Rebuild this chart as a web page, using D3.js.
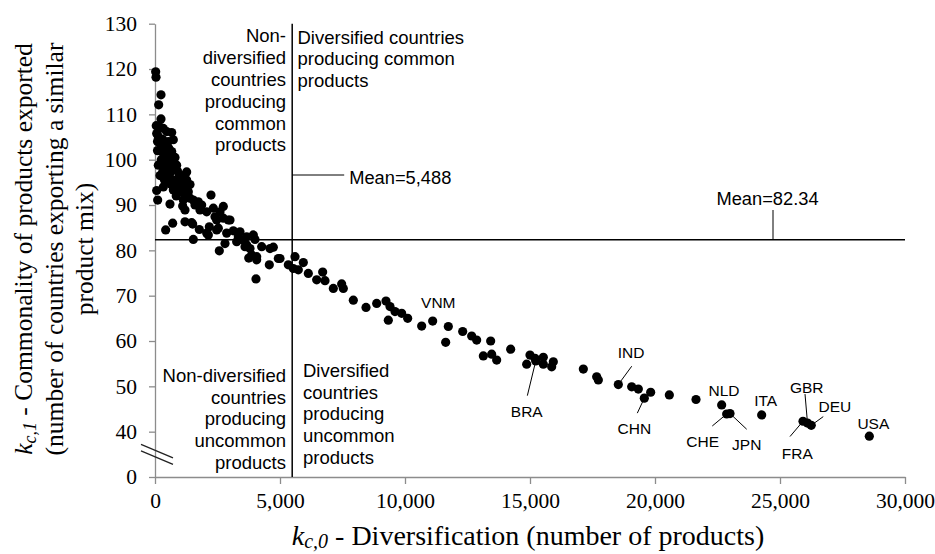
<!DOCTYPE html>
<html>
<head>
<meta charset="utf-8">
<script src="https://cdn.jsdelivr.net/npm/d3@7"></script>
<style>
  body { margin: 0; background: #fff; }
  svg text { fill: #000; }
</style>
</head>
<body>
<div id="chart"></div>
<script>
// Diversification (kc,0) vs commonality (kc,1) of exported products
const prodX = [
  27, 40, 240, 147, 240, 67, 133, 333, 467, 667, 733, 200, 400, 267, 667, 467, 133, 733, 867, 307,
  600, 1267, 67, 333, 533, 733, 933, 1067, 1267, 1133, 733, 1000, 1333, 107, 600, 1133, 1107, 1200, 1533, 1733,
  1867, 2240, 1800, 2067, 2333, 2600, 2400, 2733, 3000, 1200, 1467, 1773, 2173, 2067, 2467, 427, 707, 1533, 2867, 3133,
  3400, 3333, 3667, 3933, 4000, 4267, 4600, 4733, 4933, 2573, 2800, 3267, 3600, 3800, 3867, 4067, 4040, 4573, 4067, 3750,
  2933, 2733, 1800, 2467, 1507, 2533, 3533, 3667, 2133, 50, 200, 100, 300, 533, 400, 100, 550, 250, 350, 800,
  450, 600, 900, 200, 450, 700, 1000, 1150, 380, 650, 850, 1400, 950, 1200, 1400, 1600, 850,
  5000, 5333, 5600, 5533, 5733, 5933, 6133, 6467, 6707, 6800, 7133, 7533, 7467, 7933, 8440, 8867, 9240, 9400, 9600, 9867,
  9333, 10107, 10667, 11733, 11627, 12307, 12667, 12867, 13427, 13133, 13467, 13667, 14227, 15000, 15200, 14867, 15533, 15533, 15933, 15867,
  17133, 17733, 17667, 19067, 19333, 19827, 20573, 21640
];
const prodY = [
  119.4, 118.2, 114.3, 112.1, 109.0, 105.8, 105.1, 106.9, 106.2, 106.0, 104.4, 103.6, 102.9, 101.8, 101.8, 100.7, 98.8, 99.2, 98.8, 97.3,
  97.0, 97.3, 93.2, 94.0, 95.1, 95.5, 95.9, 95.1, 95.5, 94.0, 93.3, 92.9, 92.9, 91.1, 90.2, 91.1, 89.8, 88.9, 91.1, 90.7,
  90.0, 92.2, 88.9, 88.5, 89.3, 88.5, 87.4, 87.1, 86.7, 86.3, 86.1, 84.6, 85.2, 83.8, 84.5, 84.5, 86.0, 82.4, 83.8, 84.3,
  84.1, 83.0, 83.0, 83.4, 82.4, 80.8, 80.4, 80.7, 78.2, 79.9, 81.5, 81.9, 80.8, 80.4, 79.0, 78.6, 73.7, 76.8, 77.9, 78.3,
  86.7, 89.7, 89.7, 86.7, 85.8, 84.9, 82.3, 81.2, 83.4, 107.5, 107.2, 104.0, 104.5, 104.0, 101.0, 102.0, 102.5, 100.0, 99.5, 100.5,
  98.5, 99.5, 97.5, 96.5, 96.0, 97.8, 96.5, 96.5, 95.5, 94.5, 94.2, 94.5, 93.5, 92.5, 91.5, 90.0, 92.0,
  78.2, 76.8, 78.6, 76.0, 75.7, 77.3, 74.9, 73.5, 75.2, 73.3, 71.6, 71.6, 72.6, 69.0, 67.4, 68.3, 68.8, 67.6, 66.5, 66.1,
  64.6, 65.0, 63.3, 63.2, 59.7, 62.1, 61.1, 60.2, 60.0, 56.7, 57.1, 55.8, 58.2, 56.9, 56.2, 54.9, 56.4, 54.9, 55.4, 54.3,
  53.8, 51.4, 52.1, 49.9, 49.4, 48.7, 48.1, 47.1
];

// labelled countries
const codes = ["VNM", "BRA", "IND", "CHN", "NLD", "CHE", "JPN", "ITA", "FRA", "GBR", "DEU", "USA"];
const codeX = [11107, 15230, 18533, 19573, 22667, 22867, 23000, 24267, 25920, 26100, 26250, 28573];
const codeY = [64.4, 55.6, 50.4, 47.4, 45.9, 43.9, 44.0, 43.7, 42.3, 41.9, 41.4, 39.0];

const meanX = 5488;
const meanY = 82.34;

const xTicks = [0, 5000, 10000, 15000, 20000, 25000, 30000];
const yTicks = [30, 40, 50, 60, 70, 80, 90, 100, 110, 120, 130];
const yTickLabels = ["0", "40", "50", "60", "70", "80", "90", "100", "110", "120", "130"];

const quadrants = [
  { lines: ["Non-", "diversified", "countries", "producing", "common", "products"], anchor: "end", x: 286, y: 42.3 },
  { lines: ["Diversified countries", "producing common", "products"], anchor: "start", x: 297.5, y: 43.5 },
  { lines: ["Non-diversified", "countries", "producing", "uncommon", "products"], anchor: "end", x: 286, y: 381.7 },
  { lines: ["Diversified", "countries", "producing", "uncommon", "products"], anchor: "start", x: 303, y: 376.7 }
];

// label placement: leader end (lx,ly) and text centre (tx,ty) in px from the dot
const labelOffsets = {
  VNM: { tx: 5.6, ty: -18.7 },
  BRA: { lx: -8.4, ly: 34.7, tx: -9, ty: 50.4 },
  IND: { lx: 13.4, ly: -18.3, tx: 12.7, ty: -32.6 },
  CHN: { lx: -7, ly: 15, tx: -10, ty: 30.7 },
  NLD: { tx: 2.3, ty: -15 },
  CHE: { lx: -14.4, ly: 12, tx: -24, ty: 27.7 },
  JPN: { lx: 16.7, ly: 15.7, tx: 16.7, ty: 31 },
  ITA: { tx: 4, ty: -14.3 },
  FRA: { lx: -13, ly: 15.3, tx: -5.7, ty: 31.9 },
  GBR: { lx: -2.5, ly: -29, tx: -0.8, ty: -35.8 },
  DEU: { lx: 12, ly: -8.7, tx: 23.7, ty: -18.7 },
  USA: { tx: 4, ty: -12.7 }
};

const W = 935, H = 554;
const sans = "'Liberation Sans', Arial, sans-serif";
const serif = "'Liberation Serif', 'Times New Roman', serif";

const svg = d3.select("#chart")
  .append("svg")
  .attr("width", W)
  .attr("height", H);

// Scales
const x = d3.scaleLinear().domain([0, 30000]).range([155, 905]);
const y = d3.scaleLinear().domain([30, 130]).range([477, 23.7]);

// Axes
const yAxis = svg.append("g")
  .attr("transform", `translate(${x(0)},0)`)
  .call(d3.axisLeft(y)
    .tickValues(yTicks)
    .tickFormat((d, i) => yTickLabels[i])
    .tickSizeInner(6)
    .tickSizeOuter(0)
    .tickPadding(12));

const xAxis = svg.append("g")
  .attr("transform", `translate(0,${y(30)})`)
  .call(d3.axisBottom(x)
    .tickValues(xTicks)
    .tickFormat(d3.format(","))
    .tickSizeInner(7)
    .tickSizeOuter(0)
    .tickPadding(9));

[xAxis, yAxis].forEach(a => {
  a.attr("font-family", serif).attr("font-size", 21.5);
  a.select(".domain").attr("stroke", "#8c8c8c").attr("stroke-width", 1.3);
  a.selectAll(".tick line").attr("stroke", "#8c8c8c").attr("stroke-width", 1.3);
  a.selectAll(".tick text")
    .style("font-family", serif)
    .style("font-size", "21.5px")
    .attr("fill", "#111");
});

// Axis break marks
const bx = x(0), by = y(35);
[0, 6.5].forEach(off => {
  svg.append("line")
    .attr("x1", bx - 14).attr("y1", by - 10 + off)
    .attr("x2", bx + 18).attr("y2", by + 3.5 + off)
    .attr("stroke", "#222")
    .attr("stroke-width", 1.3);
});

// Mean lines
svg.append("line")
  .attr("x1", x(0)).attr("x2", x(30000))
  .attr("y1", y(meanY)).attr("y2", y(meanY))
  .attr("stroke", "#000").attr("stroke-width", 1.5);
svg.append("line")
  .attr("x1", x(meanX)).attr("x2", x(meanX))
  .attr("y1", y(130)).attr("y2", y(30))
  .attr("stroke", "#000").attr("stroke-width", 1.5);

// Mean callouts
svg.append("line")
  .attr("x1", x(meanX)).attr("x2", x(meanX) + 52)
  .attr("y1", 175).attr("y2", 175)
  .attr("stroke", "#000").attr("stroke-width", 1);
svg.append("text")
  .attr("x", x(meanX) + 57)
  .attr("y", 184)
  .style("font-family", sans)
  .style("font-size", "18.3px")
  .text("Mean=5,488");

svg.append("line")
  .attr("x1", 773).attr("x2", 773)
  .attr("y1", 210).attr("y2", y(meanY))
  .attr("stroke", "#000").attr("stroke-width", 1);
svg.append("text")
  .attr("x", 767.5)
  .attr("y", 205)
  .attr("text-anchor", "middle")
  .style("font-family", sans)
  .style("font-size", "18.3px")
  .text("Mean=82.34");

// Quadrant descriptions
quadrants.forEach(q => {
  const t = svg.append("text")
    .attr("text-anchor", q.anchor)
    .style("font-family", sans)
    .style("font-size", "18.5px");
  q.lines.forEach((ln, i) => {
    t.append("tspan")
      .attr("x", q.x)
      .attr("y", q.y + i * 21.8)
      .text(ln);
  });
});

// Points
const points = prodX.map((v, i) => ({ x: v, y: prodY[i] }))
  .concat(codes.map((c, i) => ({ x: codeX[i], y: codeY[i] })));

svg.selectAll(".dot")
  .data(points)
  .enter()
  .append("circle")
  .attr("class", "dot")
  .attr("cx", d => x(d.x))
  .attr("cy", d => y(d.y))
  .attr("r", 4.6)
  .attr("fill", "#000");

// Country labels with leader lines
const labelled = codes.map((c, i) => ({ code: c, px: x(codeX[i]), py: y(codeY[i]), o: labelOffsets[c] }));

svg.selectAll(".leader")
  .data(labelled.filter(d => d.o.lx !== undefined))
  .enter()
  .append("line")
  .attr("class", "leader")
  .attr("x1", d => d.px).attr("y1", d => d.py)
  .attr("x2", d => d.px + d.o.lx).attr("y2", d => d.py + d.o.ly)
  .attr("stroke", "#000")
  .attr("stroke-width", 1);

svg.selectAll(".code")
  .data(labelled)
  .enter()
  .append("text")
  .attr("class", "code")
  .attr("x", d => d.px + d.o.tx)
  .attr("y", d => d.py + d.o.ty)
  .attr("dy", "0.36em")
  .attr("text-anchor", "middle")
  .style("font-family", sans)
  .style("font-size", "15.5px")
  .text(d => d.code);

// X axis title
const xt = svg.append("text")
  .attr("x", 528)
  .attr("y", 545)
  .attr("text-anchor", "middle")
  .style("font-family", serif)
  .style("font-size", "28px");
xt.append("tspan").style("font-style", "italic").text("k");
xt.append("tspan").style("font-style", "italic").style("font-size", "20px").attr("dy", 3).text("c,0");
xt.append("tspan").attr("dy", -3).text(" - Diversification (number of products)");

// Y axis title
const yTitleLines = [
  { base: 32, parts: true },
  { base: 62.5, text: "(number of countries exporting a similar" },
  { base: 93, text: "product mix)" }
];
yTitleLines.forEach(l => {
  const t = svg.append("text")
    .attr("transform", `translate(${l.base},249) rotate(-90)`)
    .attr("text-anchor", "middle")
    .style("font-family", serif)
    .style("font-size", "25.5px");
  if (l.parts) {
    t.append("tspan").style("font-style", "italic").text("k");
    t.append("tspan").style("font-style", "italic").style("font-size", "18px").attr("dy", 4).text("c,1");
    t.append("tspan").attr("dy", -4).text(" - Commonality of products exported");
  } else {
    t.text(l.text);
  }
});
</script>
</body>
</html>
